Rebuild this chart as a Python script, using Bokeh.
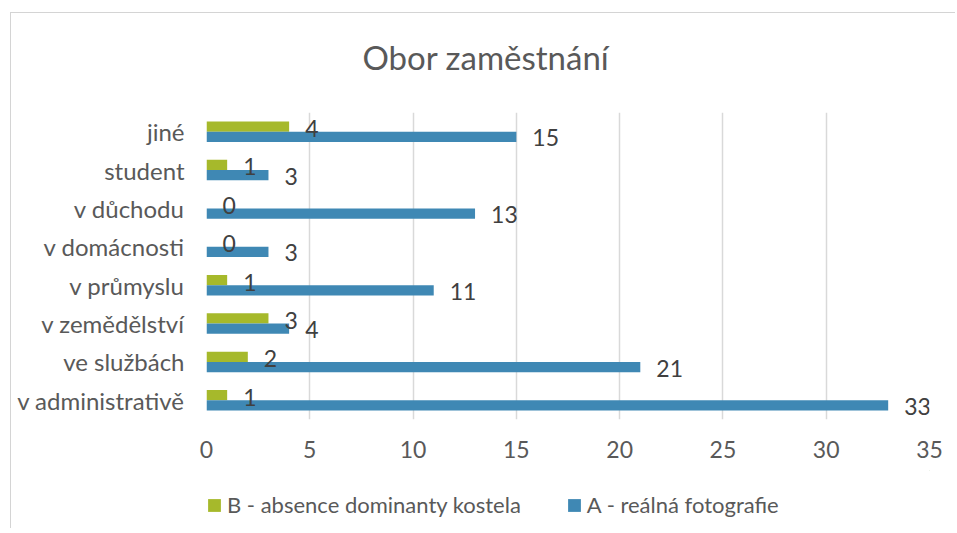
from bokeh.plotting import figure
from bokeh.layouts import column
from bokeh.models import ColumnDataSource, FactorRange, Legend, LegendItem, FixedTicker, Title
from bokeh.transform import dodge
from bokeh.core.properties import value
from bokeh.embed import file_html
from bokeh.resources import INLINE

categories = ["v administrativě", "ve službách", "v zemědělství", "v průmyslu",
              "v domácnosti", "v důchodu", "student", "jiné"]
series_a = [33, 21, 4, 11, 3, 13, 3, 15]
series_b = [1, 2, 3, 1, 0, 0, 1, 4]
name_a = "A - reálná fotografie"
name_b = "B - absence dominanty kostela"
x_ticks = [0, 5, 10, 15, 20, 25, 30, 35]

FONT = "Lato"
GREEN = "#a6b92b"
BLUE = "#3f88b4"
TXT = "#595959"

src = ColumnDataSource(dict(cat=categories, a=series_a, b=series_b,
                            a_txt=[str(v) for v in series_a],
                            b_txt=[str(v) for v in series_b]))

p = figure(width=944, height=457, output_backend="svg", toolbar_location=None,
           y_range=FactorRange(factors=categories, range_padding=0), x_range=(0, 35),
           min_border_left=195, min_border_right=26, min_border_top=99,
           min_border_bottom=51)

p.title.text = "Obor zaměstnání"
p.title.align = "left"
p.title.text_font = FONT
p.title.text_font_size = "33px"
p.title.text_font_style = "normal"
p.title.text_color = TXT
p.title.offset = 156
p.title.standoff = 38

# blank spacer between the title and the plot area
p.add_layout(Title(text=" ", text_font_size="10px", standoff=4), "above")

bh = 0.268
off = 0.134
rb = p.hbar(y=dodge("cat", off, range=p.y_range), right="b", left=0, height=bh,
            source=src, fill_color=GREEN, line_color=None)
ra = p.hbar(y=dodge("cat", -off, range=p.y_range), right="a", left=0, height=bh,
            source=src, fill_color=BLUE, line_color=None)

p.text(x="b", y=dodge("cat", off, range=p.y_range), text="b_txt", source=src,
       x_offset=16, y_offset=2, text_align="left", text_baseline="middle",
       text_font=value(FONT), text_font_size="23px", text_color="#404040")
p.text(x="a", y=dodge("cat", -off, range=p.y_range), text="a_txt", source=src,
       x_offset=16, y_offset=1, text_align="left", text_baseline="middle",
       text_font=value(FONT), text_font_size="23px", text_color="#404040")

p.xaxis.ticker = FixedTicker(ticks=x_ticks)
for ax in (p.xaxis[0], p.yaxis[0]):
    ax.axis_line_color = None
    ax.major_tick_line_color = None
    ax.minor_tick_line_color = None
    ax.major_tick_out = 0
    ax.major_tick_in = 0
    ax.minor_tick_out = 0
    ax.major_label_text_font = FONT
    ax.major_label_text_color = TXT
p.xaxis.major_label_text_font_size = "23px"
p.yaxis.major_label_text_font_size = "24px"
p.xaxis.major_label_standoff = 21
p.yaxis.major_label_standoff = 22

p.ygrid.grid_line_color = None
p.xgrid.grid_line_color = "#d9d9d9"
p.xgrid.grid_line_width = 1.5
p.outline_line_color = None

# legend strip (frame is aligned with the main plot's frame by the column)
p2 = figure(width=944, height=58, output_backend="svg", toolbar_location=None,
            x_range=(0, 1), y_range=(0, 1),
            min_border_left=0, min_border_right=0, min_border_top=0,
            min_border_bottom=0)
p2.axis.visible = False
p2.grid.visible = False
p2.outline_line_color = None
lsrc = ColumnDataSource(dict(y=[5], right=[5]))
lb = p2.hbar(y="y", right="right", left=4, height=0.1, source=lsrc,
             fill_color=GREEN, line_color=None)
la = p2.hbar(y="y", right="right", left=4, height=0.1, source=lsrc,
             fill_color=BLUE, line_color=None)
legend = Legend(items=[LegendItem(label=name_b, renderers=[lb]),
                       LegendItem(label=name_a, renderers=[la])],
                orientation="horizontal", location=(0, 10),
                label_text_font=FONT, label_text_font_size="22px",
                label_text_color=TXT, glyph_width=16, glyph_height=16,
                spacing=45, label_standoff=5, border_line_color=None,
                background_fill_alpha=0, margin=0, padding=0)
p2.add_layout(legend)

layout = column(p, p2, spacing=0, margin=(12, 0, 0, 10),
                styles={"border-top": "1px solid #d4d4d4",
                        "border-left": "1px solid #d4d4d4"})

open("out.html", "w").write(file_html(layout, INLINE))
